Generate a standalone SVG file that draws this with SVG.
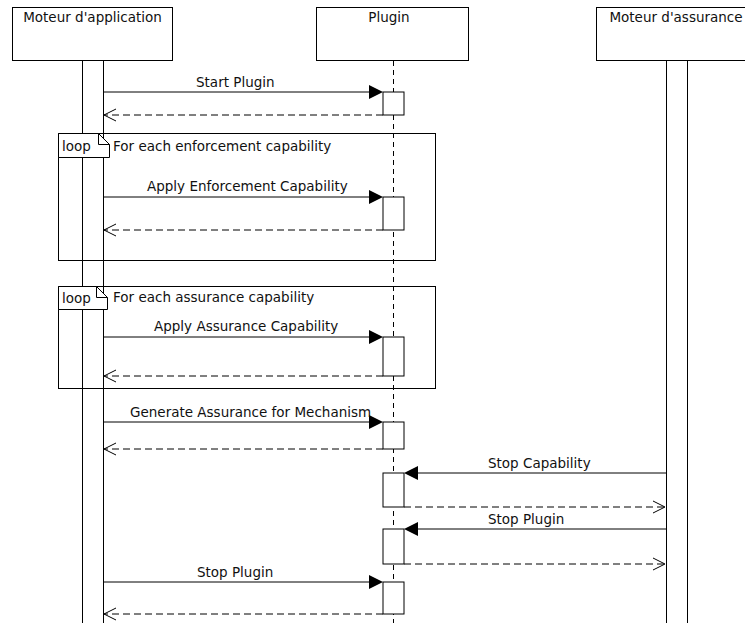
<svg xmlns="http://www.w3.org/2000/svg" width="745" height="623" viewBox="0 0 745 623">
  <defs>
    <style>
      .head { fill: #ffffff; stroke: #000000; stroke-width: 1; }
      .life { fill: none; stroke: #000000; stroke-width: 1; }
      .dash-life { stroke: #000000; stroke-width: 1; stroke-dasharray: 5 4; }
      .frame { fill: none; stroke: #000000; stroke-width: 1; }
      .tag { fill: #ffffff; stroke: #000000; stroke-width: 1; }
      .act { fill: #ffffff; stroke: #000000; stroke-width: 1; }
      .msg { fill: none; stroke: #000000; stroke-width: 1; }
      .ret { fill: none; stroke: #000000; stroke-width: 1; stroke-dasharray: 7 4; }
      .open { fill: none; stroke: #000000; stroke-width: 1; }
      .solid { fill: #000000; stroke: none; }
      text { font-family: "DejaVu Sans", "Liberation Sans", sans-serif; font-size: 13.5px; fill: #111111; }
      .mid { text-anchor: middle; }
    </style>
  </defs>

  <!-- participants -->
  <g id="moteur-application">
    <rect class="head" x="12.5" y="7.5" width="160" height="53"/>
    <text class="mid" x="92.5" y="22">Moteur d'application</text>
    <rect class="life" x="82.5" y="60.5" width="21" height="580"/>
  </g>
  <g id="plugin">
    <rect class="head" x="316.5" y="7.5" width="152" height="53"/>
    <text class="mid" x="389" y="22">Plugin</text>
    <line class="dash-life" x1="393.5" y1="61" x2="393.5" y2="623"/>
  </g>
  <g id="moteur-assurance">
    <rect class="head" x="596.5" y="7.5" width="161" height="53"/>
    <text class="mid" x="676" y="22">Moteur d'assurance</text>
    <rect class="life" x="666.5" y="60.5" width="21" height="580"/>
  </g>

  <!-- combined fragments -->
  <g id="loop-enforcement">
    <rect class="frame" x="58.5" y="133.5" width="377" height="127"/>
    <path class="tag" d="M58.5,133.5 H98.5 L109.5,144.5 V157.5 H58.5 Z"/>
    <path class="open" d="M98.5,133.5 V144.5 H109.5"/>
    <text x="62" y="151">loop</text>
    <text x="113" y="151">For each enforcement capability</text>
  </g>
  <g id="loop-assurance">
    <rect class="frame" x="58.5" y="286.5" width="377" height="102"/>
    <path class="tag" d="M58.5,286.5 H96.5 L107.5,297.5 V309.5 H58.5 Z"/>
    <path class="open" d="M96.5,286.5 V297.5 H107.5"/>
    <text x="62" y="303">loop</text>
    <text x="113" y="302">For each assurance capability</text>
  </g>

  <!-- messages -->
  <g id="connectors">
    <!-- Start Plugin -->
    <line class="msg" x1="103.5" y1="92" x2="370" y2="92"/>
    <polygon class="solid" points="383,92 369,85 369,99"/>
    <text x="196" y="87">Start Plugin</text>
    <line class="ret" x1="383" y1="115" x2="104" y2="115"/>
    <polyline class="open" points="116,109 104,115 116,121"/>

    <!-- Apply Enforcement Capability -->
    <line class="msg" x1="103.5" y1="197" x2="370" y2="197"/>
    <polygon class="solid" points="383,197 369,190 369,204"/>
    <text x="147" y="191">Apply Enforcement Capability</text>
    <line class="ret" x1="383" y1="230" x2="104" y2="230"/>
    <polyline class="open" points="116,224 104,230 116,236"/>

    <!-- Apply Assurance Capability -->
    <line class="msg" x1="103.5" y1="337" x2="370" y2="337"/>
    <polygon class="solid" points="383,337 369,330 369,344"/>
    <text x="154" y="331">Apply Assurance Capability</text>
    <line class="ret" x1="383" y1="376" x2="104" y2="376"/>
    <polyline class="open" points="116,370 104,376 116,382"/>

    <!-- Generate Assurance for Mechanism -->
    <line class="msg" x1="103.5" y1="422" x2="370" y2="422"/>
    <polygon class="solid" points="383,422 369,415 369,429"/>
    <text x="130" y="417">Generate Assurance for Mechanism</text>
    <line class="ret" x1="383" y1="449" x2="104" y2="449"/>
    <polyline class="open" points="116,443 104,449 116,455"/>

    <!-- Stop Capability -->
    <line class="msg" x1="666" y1="473" x2="417" y2="473"/>
    <polygon class="solid" points="404,473 418,466 418,480"/>
    <text x="488" y="468">Stop Capability</text>
    <line class="ret" x1="404" y1="507" x2="665" y2="507"/>
    <polyline class="open" points="653,501 665,507 653,513"/>

    <!-- Stop Plugin (assurance to plugin) -->
    <line class="msg" x1="666" y1="529" x2="417" y2="529"/>
    <polygon class="solid" points="404,529 418,522 418,536"/>
    <text x="488" y="524">Stop Plugin</text>
    <line class="ret" x1="404" y1="564" x2="665" y2="564"/>
    <polyline class="open" points="653,558 665,564 653,570"/>

    <!-- Stop Plugin (application to plugin) -->
    <line class="msg" x1="103.5" y1="582" x2="370" y2="582"/>
    <polygon class="solid" points="383,582 369,575 369,589"/>
    <text x="197" y="577">Stop Plugin</text>
    <line class="ret" x1="383" y1="614" x2="104" y2="614"/>
    <polyline class="open" points="116,608 104,614 116,620"/>
  </g>

  <!-- activations on the plugin lifeline -->
  <g id="activations">
    <rect class="act" x="383" y="92" width="21" height="23"/>
    <rect class="act" x="383" y="197" width="21" height="33"/>
    <rect class="act" x="383" y="337" width="21" height="39"/>
    <rect class="act" x="383" y="422" width="21" height="27"/>
    <rect class="act" x="383" y="473" width="21" height="34"/>
    <rect class="act" x="383" y="529" width="21" height="35"/>
    <rect class="act" x="383" y="582" width="21" height="32"/>
  </g>
</svg>
